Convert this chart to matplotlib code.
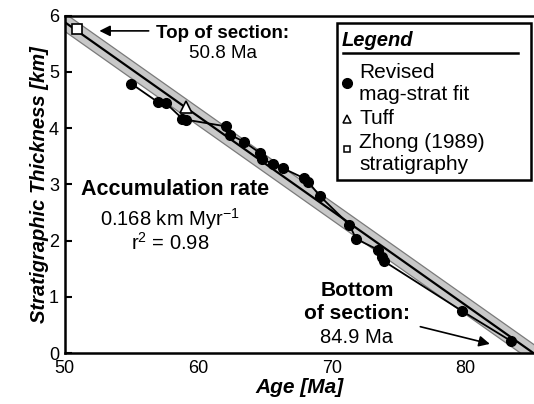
import numpy as np
import matplotlib
matplotlib.use("Agg")
import matplotlib.pyplot as plt
from matplotlib.patches import Rectangle
from matplotlib.lines import Line2D

plt.rcParams['font.family'] = ['Liberation Sans', 'DejaVu Sans']
plt.rcParams['mathtext.fontset'] = 'custom'
plt.rcParams['mathtext.rm'] = 'Liberation Sans'

# revised mag-strat fit (age in Ma, thickness in km)
ages = [55.0, 57.0, 57.6, 58.8, 59.1, 62.1, 62.4, 63.4, 64.6, 64.8, 65.6,
        66.3, 67.9, 68.2, 69.1, 71.3, 71.8, 73.4, 73.7, 73.9, 79.7, 83.4]
thick = [4.79, 4.46, 4.44, 4.17, 4.15, 4.03, 3.88, 3.76, 3.56, 3.45, 3.36,
         3.29, 3.11, 3.05, 2.79, 2.28, 2.03, 1.84, 1.71, 1.63, 0.75, 0.21]

tuff_age = [59.1]
tuff_thick = [4.37]

zhong_age = [50.9]
zhong_thick = [5.77]

rate = 0.168       # km / Myr
base_age = 85.05   # where the fit reaches 0 km
band = 0.16        # half-width of the grey band, km

fig = plt.figure(figsize=(5.34, 4.04), dpi=100)
ax = fig.add_axes([64.5 / 534, 51 / 404, 469.5 / 534, 337.3 / 404])

fit_x = np.array([49.0, 86.0])
fit_y = rate * (base_age - fit_x)
ax.fill_between(fit_x, fit_y - band, fit_y + band, color='#c8c8c8',
                edgecolor='#7a7a7a', lw=0.9, zorder=1)
ax.plot(fit_x, fit_y, color='black', lw=1.6, zorder=2)

ax.plot(ages, thick, '-o', color='black', lw=1.3, ms=7, zorder=3)
ax.plot(tuff_age, tuff_thick, '^', mfc='white', mec='black', mew=1.2,
        ms=8, zorder=4)
ax.plot(zhong_age, zhong_thick, 's', mfc='white', mec='black', mew=1.2,
        ms=7, zorder=4)

ax.set_xlim(50, 85.1)
ax.set_ylim(0, 6)
ax.set_xticks([50, 60, 70, 80])
ax.set_yticks([0, 1, 2, 3, 4, 5, 6])
ax.tick_params(axis='x', length=0, labelsize=13, pad=5)
ax.tick_params(axis='y', direction='in', length=5, width=1.5, labelsize=13,
               pad=4)
ax.spines['right'].set_visible(False)
for s in ['left', 'bottom', 'top']:
    ax.spines[s].set_linewidth(1.8)

ax.set_xlabel('Age [Ma]', fontsize=15, fontweight='bold', style='italic',
              labelpad=1)
ax.set_ylabel('Stratigraphic Thickness [km]', fontsize=14.5,
              fontweight='bold', style='italic', labelpad=0)

# annotations
ax.text(61.8, 5.69, 'Top of section:', fontsize=13.5, fontweight='bold',
        ha='center', va='center')
ax.text(61.85, 5.32, '50.8 Ma', fontsize=13.5, ha='center', va='center')
ax.annotate('', xy=(52.4, 5.73), xytext=(56.5, 5.73),
            arrowprops=dict(arrowstyle='-|>', color='black', lw=1.2,
                            mutation_scale=16))

ax.text(58.3, 2.90, 'Accumulation rate', fontsize=15.5, fontweight='bold',
        ha='center', va='center')
ax.text(57.9, 2.38, '0.168 km Myr$^{-1}$', fontsize=14.5, ha='center',
        va='center')
ax.text(57.9, 1.96, 'r$^{2}$ = 0.98', fontsize=14.5, ha='center',
        va='center')

ax.text(71.9, 1.12, 'Bottom', fontsize=15, fontweight='bold', ha='center',
        va='center')
ax.text(71.9, 0.71, 'of section:', fontsize=15, fontweight='bold',
        ha='center', va='center')
ax.text(71.85, 0.27, '84.9 Ma', fontsize=14.5, ha='center', va='center')
ax.annotate('', xy=(82.0, 0.15), xytext=(76.4, 0.48),
            arrowprops=dict(arrowstyle='-|>', color='black', lw=1.2,
                            mutation_scale=16))

# hand-drawn legend box (figure pixel helpers)
def fx(px):
    return px / 534


def fy(py):
    return 1 - py / 404


tf = fig.transFigure
fig.patches.append(Rectangle((fx(337), fy(180)), fx(531) - fx(337),
                             fy(23) - fy(180), transform=tf, fill=True,
                             facecolor='white', edgecolor='black', lw=1.8,
                             zorder=5))
fig.text(fx(342), fy(40), 'Legend', fontsize=14.5, fontweight='bold',
         style='italic', ha='left', va='center', zorder=6)
fig.lines.append(Line2D([fx(343), fx(518)], [fy(53), fy(53)], transform=tf,
                        color='black', lw=1.8, zorder=6))
fig.lines.append(Line2D([fx(347)], [fy(83)], transform=tf, marker='o',
                        color='black', ms=7, zorder=6))
fig.text(fx(359), fy(72), 'Revised', fontsize=15, va='center', zorder=6)
fig.text(fx(359), fy(95), 'mag-strat fit', fontsize=15, va='center',
         zorder=6)
fig.lines.append(Line2D([fx(347)], [fy(119)], transform=tf, marker='^',
                        mfc='white', mec='black', mew=1.1, ms=6, zorder=6))
fig.text(fx(359), fy(118), 'Tuff', fontsize=15, va='center', zorder=6)
fig.lines.append(Line2D([fx(347)], [fy(149)], transform=tf, marker='s',
                        mfc='white', mec='black', mew=1.1, ms=5, zorder=6))
fig.text(fx(359), fy(143), 'Zhong (1989)', fontsize=15, va='center',
         zorder=6)
fig.text(fx(359), fy(165), 'stratigraphy', fontsize=15, va='center',
         zorder=6)

fig.savefig('out.png', dpi=100)
